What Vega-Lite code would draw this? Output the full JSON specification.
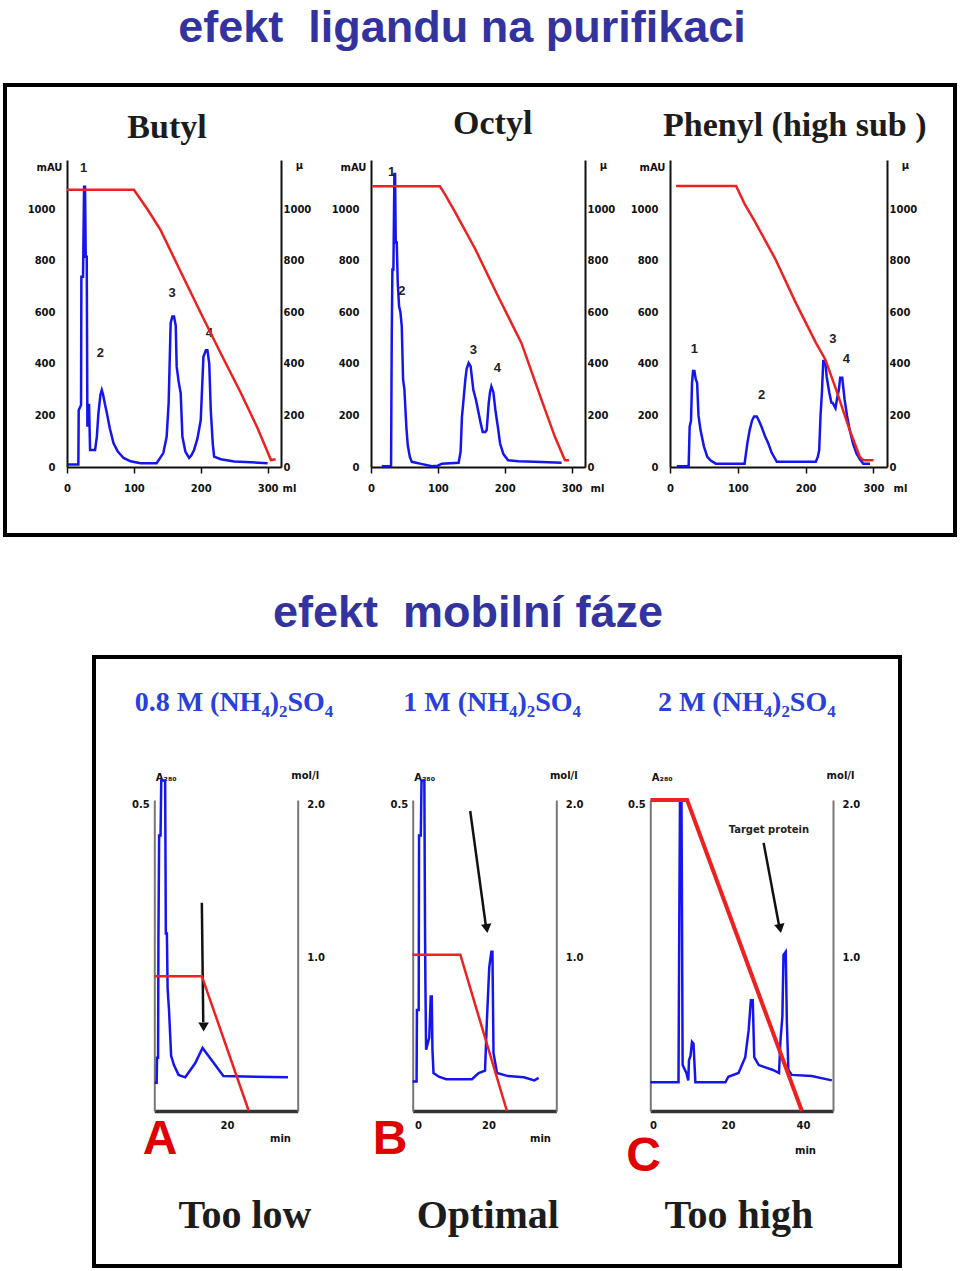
{
  "$schema": "https://vega.github.io/schema/vega-lite/v6.json",
  "background": "white",
  "padding": {"left": 3, "top": 4, "right": 0, "bottom": 0},
  "spacing": 52,
  "config": {
    "view": {"stroke": null},
    "axis": {"grid": false, "domainColor": "#111", "domainWidth": 2, "tickColor": "#111", "labelFont": "DejaVu Sans", "labelFontSize": 10, "labelFontWeight": "bold", "labelColor": "#111", "titleFont": "DejaVu Sans", "titleFontSize": 10, "titleFontWeight": "bold", "titleColor": "#111", "labelFlush": false, "labelOverlap": false}
  },
  "datasets": {
    "butyl": [
      {"s":"uv","x":1,"y":10},{"s":"uv","x":17,"y":10},{"s":"uv","x":17.5,"y":220},{"s":"uv","x":21,"y":240},{"s":"uv","x":21.5,"y":737},{"s":"uv","x":24,"y":737},{"s":"uv","x":25.5,"y":1086},{"s":"uv","x":27,"y":1086},{"s":"uv","x":28,"y":815},{"s":"uv","x":29.5,"y":815},{"s":"uv","x":30.5,"y":156},{"s":"uv","x":32,"y":240},{"s":"uv","x":33,"y":240},{"s":"uv","x":34.5,"y":66},{"s":"uv","x":42,"y":66},{"s":"uv","x":44.6,"y":117},{"s":"uv","x":47,"y":209},{"s":"uv","x":50,"y":280},{"s":"uv","x":52,"y":298},{"s":"uv","x":54,"y":280},{"s":"uv","x":57,"y":240},{"s":"uv","x":59.6,"y":209},{"s":"uv","x":64,"y":150},{"s":"uv","x":69.6,"y":92},{"s":"uv","x":76,"y":60},{"s":"uv","x":84.6,"y":35},{"s":"uv","x":95,"y":22},{"s":"uv","x":110,"y":15},{"s":"uv","x":134,"y":15},{"s":"uv","x":144,"y":54},{"s":"uv","x":149,"y":117},{"s":"uv","x":152,"y":248},{"s":"uv","x":155,"y":558},{"s":"uv","x":157.5,"y":583},{"s":"uv","x":160,"y":583},{"s":"uv","x":162.6,"y":548},{"s":"uv","x":164,"y":389},{"s":"uv","x":167,"y":330},{"s":"uv","x":170,"y":286},{"s":"uv","x":172.6,"y":117},{"s":"uv","x":177,"y":60},{"s":"uv","x":182.6,"y":35},{"s":"uv","x":186,"y":45},{"s":"uv","x":190,"y":66},{"s":"uv","x":195,"y":110},{"s":"uv","x":200,"y":182},{"s":"uv","x":204,"y":427},{"s":"uv","x":207.7,"y":453},{"s":"uv","x":210,"y":453},{"s":"uv","x":212.7,"y":401},{"s":"uv","x":215,"y":220},{"s":"uv","x":218,"y":90},{"s":"uv","x":220,"y":40},{"s":"uv","x":230,"y":30},{"s":"uv","x":250,"y":21},{"s":"uv","x":275,"y":18},{"s":"uv","x":300,"y":15},
      {"s":"grad","x":0,"y":1075},{"s":"grad","x":100,"y":1075},{"s":"grad","x":120,"y":1000},{"s":"grad","x":140,"y":918},{"s":"grad","x":170,"y":757},{"s":"grad","x":200,"y":597},{"s":"grad","x":230,"y":440},{"s":"grad","x":260,"y":287},{"s":"grad","x":285,"y":150},{"s":"grad","x":305,"y":27},{"s":"grad","x":312,"y":30},
      {"s":"lab","x":25,"y":1160,"t":"1"},{"s":"lab","x":50,"y":442,"t":"2"},{"s":"lab","x":157,"y":674,"t":"3"},{"s":"lab","x":213,"y":519,"t":"4"},
      {"s":"ttl","x":149.5,"y":1275,"t":"Butyl"}
    ],
    "octyl": [
      {"s":"uv","x":16,"y":3},{"s":"uv","x":30,"y":3},{"s":"uv","x":31,"y":500},{"s":"uv","x":32,"y":766},{"s":"uv","x":33.5,"y":766},{"s":"uv","x":35,"y":1136},{"s":"uv","x":36,"y":1136},{"s":"uv","x":37,"y":870},{"s":"uv","x":38.5,"y":870},{"s":"uv","x":40,"y":714},{"s":"uv","x":42,"y":623},{"s":"uv","x":44,"y":600},{"s":"uv","x":46,"y":545},{"s":"uv","x":48,"y":338},{"s":"uv","x":50,"y":300},{"s":"uv","x":51,"y":247},{"s":"uv","x":53,"y":150},{"s":"uv","x":55,"y":84},{"s":"uv","x":58,"y":40},{"s":"uv","x":61,"y":20},{"s":"uv","x":75,"y":12},{"s":"uv","x":91,"y":3},{"s":"uv","x":100,"y":5},{"s":"uv","x":106,"y":13},{"s":"uv","x":131,"y":16},{"s":"uv","x":134,"y":60},{"s":"uv","x":136,"y":195},{"s":"uv","x":138,"y":250},{"s":"uv","x":141,"y":338},{"s":"uv","x":143,"y":380},{"s":"uv","x":146,"y":403},{"s":"uv","x":149,"y":390},{"s":"uv","x":153,"y":299},{"s":"uv","x":157,"y":260},{"s":"uv","x":161,"y":208},{"s":"uv","x":164,"y":170},{"s":"uv","x":167,"y":136},{"s":"uv","x":171,"y":136},{"s":"uv","x":173,"y":143},{"s":"uv","x":176,"y":247},{"s":"uv","x":178,"y":290},{"s":"uv","x":180,"y":312},{"s":"uv","x":183,"y":290},{"s":"uv","x":186,"y":221},{"s":"uv","x":190,"y":150},{"s":"uv","x":193,"y":91},{"s":"uv","x":198,"y":50},{"s":"uv","x":205,"y":26},{"s":"uv","x":220,"y":22},{"s":"uv","x":245,"y":20},{"s":"uv","x":285,"y":16},
      {"s":"grad","x":2,"y":1088},{"s":"grad","x":103,"y":1088},{"s":"grad","x":110,"y":1060},{"s":"grad","x":126,"y":987},{"s":"grad","x":156,"y":844},{"s":"grad","x":190,"y":662},{"s":"grad","x":225,"y":480},{"s":"grad","x":255,"y":260},{"s":"grad","x":275,"y":117},{"s":"grad","x":290,"y":26},{"s":"grad","x":296,"y":26},
      {"s":"lab","x":31,"y":1143,"t":"1"},{"s":"lab","x":46,"y":682,"t":"2"},{"s":"lab","x":153,"y":455,"t":"3"},{"s":"lab","x":189,"y":383,"t":"4"},
      {"s":"ttl","x":182,"y":1291,"t":"Octyl"}
    ],
    "phenyl": [
      {"s":"uv","x":10,"y":3},{"s":"uv","x":27.5,"y":3},{"s":"uv","x":29,"y":156},{"s":"uv","x":31,"y":180},{"s":"uv","x":32.5,"y":326},{"s":"uv","x":34,"y":372},{"s":"uv","x":36,"y":372},{"s":"uv","x":38,"y":340},{"s":"uv","x":40,"y":326},{"s":"uv","x":42,"y":200},{"s":"uv","x":45,"y":143},{"s":"uv","x":50,"y":80},{"s":"uv","x":55,"y":39},{"s":"uv","x":60,"y":25},{"s":"uv","x":67.5,"y":13},{"s":"uv","x":110,"y":13},{"s":"uv","x":114,"y":91},{"s":"uv","x":117.5,"y":143},{"s":"uv","x":121,"y":180},{"s":"uv","x":124,"y":196},{"s":"uv","x":128,"y":196},{"s":"uv","x":131,"y":180},{"s":"uv","x":135,"y":156},{"s":"uv","x":140,"y":120},{"s":"uv","x":145,"y":91},{"s":"uv","x":150,"y":55},{"s":"uv","x":157.5,"y":20},{"s":"uv","x":215,"y":20},{"s":"uv","x":218,"y":40},{"s":"uv","x":220,"y":65},{"s":"uv","x":222,"y":200},{"s":"uv","x":224,"y":287},{"s":"uv","x":226,"y":411},{"s":"uv","x":229,"y":411},{"s":"uv","x":231,"y":350},{"s":"uv","x":235,"y":287},{"s":"uv","x":238,"y":250},{"s":"uv","x":240,"y":248},{"s":"uv","x":244,"y":228},{"s":"uv","x":246,"y":260},{"s":"uv","x":249,"y":300},{"s":"uv","x":251,"y":346},{"s":"uv","x":254,"y":346},{"s":"uv","x":257.5,"y":261},{"s":"uv","x":261,"y":200},{"s":"uv","x":265,"y":143},{"s":"uv","x":270,"y":90},{"s":"uv","x":275,"y":52},{"s":"uv","x":280,"y":30},{"s":"uv","x":285,"y":13},{"s":"uv","x":295,"y":13},
      {"s":"grad","x":9,"y":1089},{"s":"grad","x":97.5,"y":1089},{"s":"grad","x":110,"y":1020},{"s":"grad","x":125,"y":952},{"s":"grad","x":155,"y":808},{"s":"grad","x":185,"y":639},{"s":"grad","x":215,"y":482},{"s":"grad","x":229,"y":417},{"s":"grad","x":245,"y":300},{"s":"grad","x":265,"y":143},{"s":"grad","x":280,"y":39},{"s":"grad","x":285,"y":26},{"s":"grad","x":300,"y":26},
      {"s":"lab","x":36,"y":456,"t":"1"},{"s":"lab","x":135,"y":280,"t":"2"},{"s":"lab","x":240,"y":495,"t":"3"},{"s":"lab","x":260,"y":417,"t":"4"},
      {"s":"ttl","x":184,"y":1283,"t":"Phenyl (high sub )"}
    ],
    "pa": [
      {"s":"uv","x":-0.45,"y":0.046},{"s":"uv","x":0.1,"y":0.046},{"s":"uv","x":0.2,"y":0.087},{"s":"uv","x":0.5,"y":0.087},{"s":"uv","x":0.6,"y":0.28},{"s":"uv","x":0.8,"y":0.45},{"s":"uv","x":1.2,"y":0.45},{"s":"uv","x":1.4,"y":0.54},{"s":"uv","x":2.5,"y":0.54},{"s":"uv","x":2.7,"y":0.29},{"s":"uv","x":3.0,"y":0.29},{"s":"uv","x":3.2,"y":0.2},{"s":"uv","x":3.6,"y":0.165},{"s":"uv","x":4.2,"y":0.09},{"s":"uv","x":5.0,"y":0.075},{"s":"uv","x":6.3,"y":0.059},{"s":"uv","x":8.2,"y":0.055},{"s":"uv","x":11,"y":0.078},{"s":"uv","x":13.1,"y":0.103},{"s":"uv","x":15.7,"y":0.083},{"s":"uv","x":19,"y":0.057},{"s":"uv","x":37.3,"y":0.055},
      {"s":"grad","x":-0.5,"y":0.88},{"s":"grad","x":12.9,"y":0.88},{"s":"grad","x":26.2,"y":0.0},
      {"s":"arrow","x":12.9,"y":0.34,"x2":13.3,"y2":0.145},{"s":"head","x":13.4,"y":0.129},
      {"s":"letter","x":1.05,"y":-0.047,"t":"A"},{"s":"cap","x":25.1,"y":-0.171,"t":"Too low"},
      {"s":"sub","x":22,"y":0.654,"t":"0.8 M (NH₄)₂SO₄"}
    ],
    "pb": [
      {"s":"uv","x":-1.5,"y":0.048},{"s":"uv","x":-0.4,"y":0.048},{"s":"uv","x":-0.3,"y":0.165},{"s":"uv","x":0.2,"y":0.165},{"s":"uv","x":0.3,"y":0.45},{"s":"uv","x":0.8,"y":0.45},{"s":"uv","x":1.0,"y":0.54},{"s":"uv","x":1.8,"y":0.54},{"s":"uv","x":2.0,"y":0.29},{"s":"uv","x":2.1,"y":0.21},{"s":"uv","x":2.3,"y":0.1},{"s":"uv","x":3.2,"y":0.12},{"s":"uv","x":3.6,"y":0.187},{"s":"uv","x":3.9,"y":0.187},{"s":"uv","x":4.1,"y":0.1},{"s":"uv","x":4.4,"y":0.062},{"s":"uv","x":5.9,"y":0.056},{"s":"uv","x":8,"y":0.052},{"s":"uv","x":15.3,"y":0.052},{"s":"uv","x":17.2,"y":0.062},{"s":"uv","x":19,"y":0.066},{"s":"uv","x":19.5,"y":0.144},{"s":"uv","x":20.2,"y":0.235},{"s":"uv","x":20.8,"y":0.26},{"s":"uv","x":21.1,"y":0.26},{"s":"uv","x":21.4,"y":0.095},{"s":"uv","x":22.4,"y":0.062},{"s":"uv","x":25.5,"y":0.057},{"s":"uv","x":30,"y":0.055},{"s":"uv","x":33,"y":0.05},{"s":"uv","x":34.2,"y":0.054},
      {"s":"grad","x":-1.5,"y":1.02},{"s":"grad","x":12,"y":1.02},{"s":"grad","x":25.2,"y":0.0},
      {"s":"arrow","x":14.8,"y":0.49,"x2":19.3,"y2":0.3},{"s":"head","x":19.5,"y":0.29},
      {"s":"letter","x":-7.9,"y":-0.047,"t":"B"},{"s":"cap","x":19.8,"y":-0.171,"t":"Optimal"},
      {"s":"sub","x":21,"y":0.654,"t":"1 M (NH₄)₂SO₄"}
    ],
    "pc": [
      {"s":"uv","x":-0.7,"y":0.047},{"s":"uv","x":6.8,"y":0.047},{"s":"uv","x":7.0,"y":0.3},{"s":"uv","x":7.2,"y":0.508},{"s":"uv","x":7.6,"y":0.508},{"s":"uv","x":7.9,"y":0.075},{"s":"uv","x":8.9,"y":0.062},{"s":"uv","x":9.4,"y":0.05},{"s":"uv","x":9.6,"y":0.083},{"s":"uv","x":10.0,"y":0.09},{"s":"uv","x":10.4,"y":0.113},{"s":"uv","x":10.8,"y":0.11},{"s":"uv","x":11.3,"y":0.047},{"s":"uv","x":19.3,"y":0.047},{"s":"uv","x":20.1,"y":0.056},{"s":"uv","x":22.8,"y":0.062},{"s":"uv","x":24.6,"y":0.088},{"s":"uv","x":25.5,"y":0.132},{"s":"uv","x":26.1,"y":0.181},{"s":"uv","x":26.6,"y":0.181},{"s":"uv","x":27,"y":0.088},{"s":"uv","x":28.2,"y":0.075},{"s":"uv","x":32,"y":0.067},{"s":"uv","x":33.6,"y":0.062},{"s":"uv","x":34,"y":0.116},{"s":"uv","x":34.5,"y":0.154},{"s":"uv","x":34.8,"y":0.255},{"s":"uv","x":35.4,"y":0.26},{"s":"uv","x":35.7,"y":0.144},{"s":"uv","x":36.1,"y":0.067},{"s":"uv","x":37,"y":0.059},{"s":"uv","x":42.3,"y":0.057},{"s":"uv","x":47.7,"y":0.05},
      {"s":"grad","x":-0.7,"y":2.03},{"s":"grad","x":9.1,"y":2.03},{"s":"grad","x":39.7,"y":0.0},
      {"s":"arrow","x":29.5,"y":0.438,"x2":33.7,"y2":0.3},{"s":"head","x":33.9,"y":0.29},
      {"s":"note","x":30.9,"y":0.459,"t":"Target protein"},
      {"s":"letter","x":-2.5,"y":-0.075,"t":"C"},{"s":"cap","x":22.9,"y":-0.171,"t":"Too high"},
      {"s":"sub","x":25,"y":0.654,"t":"2 M (NH₄)₂SO₄"}
    ]
  },
  "vconcat": [
    {
      "title": {"text": "efekt\u00a0 ligandu na purifikaci", "font": "Liberation Sans", "fontSize": 45, "fontWeight": "bold", "color": "#3333a0", "anchor": "middle", "frame": "bounds", "dx": -18, "offset": -2, "baseline": "alphabetic"},
      "width": 950, "height": 450,
      "view": {"stroke": "#000", "strokeWidth": 4},
      "resolve": {"scale": {"x": "independent", "y": "independent"}},
      "layer": [
        {
          "data": {"name": "butyl"},
          "resolve": {"scale": {"y": "independent"}},
          "layer": [
            {"layer": [
              {"transform": [{"filter": "datum.s==='uv'"}], "mark": {"type": "line", "color": "#1515ee", "strokeWidth": 2.5},
               "encoding": {
                 "x": {"field": "x", "type": "quantitative", "scale": {"domain": [0, 320], "range": [62, 276], "nice": false, "zero": false}, "axis": {"orient": "bottom", "offset": -68, "values": [0, 100, 200, 300], "format": "d", "tickSize": 6, "tickWidth": 1.5, "labelPadding": 10, "title": "ml", "titleX": 277, "titleY": 21, "titleAngle": 0, "titleAlign": "left", "titleBaseline": "middle"}},
                 "y": {"field": "y", "type": "quantitative", "scale": {"domain": [0, 1190], "range": [382, 75], "nice": false, "zero": false}, "axis": {"orient": "left", "offset": -62, "values": [0, 200, 400, 600, 800, 1000], "format": "d", "ticks": false, "labelPadding": 12, "title": "mAU", "titleAngle": 0, "titleX": -5, "titleY": 82, "titleAlign": "right", "titleBaseline": "middle"}}
               }},
              {"transform": [{"filter": "datum.s==='lab'"}], "mark": {"type": "text", "font": "Liberation Sans", "fontSize": 13, "fontWeight": "bold", "color": "#222"},
               "encoding": {"x": {"field": "x", "type": "quantitative"}, "y": {"field": "y", "type": "quantitative"}, "text": {"field": "t"}}},
              {"transform": [{"filter": "datum.s==='ttl'"}], "mark": {"type": "text", "font": "Liberation Serif", "fontSize": 34, "fontWeight": "bold", "color": "#1c1c1c", "baseline": "alphabetic"},
               "encoding": {"x": {"field": "x", "type": "quantitative"}, "y": {"field": "y", "type": "quantitative"}, "text": {"field": "t"}}}
            ]},
            {"transform": [{"filter": "datum.s==='grad'"}], "mark": {"type": "line", "color": "#ee2020", "strokeWidth": 2.5},
             "encoding": {"x": {"field": "x", "type": "quantitative"}, "y": {"field": "y", "type": "quantitative", "scale": {"domain": [0, 1190], "range": [382, 75], "nice": false, "zero": false}, "axis": {"orient": "right", "offset": -674, "values": [0, 200, 400, 600, 800, 1000], "format": "d", "ticks": false, "labelPadding": 2, "title": "μ", "titleAngle": 0, "titleX": 18, "titleY": 80, "titleAlign": "center", "titleBaseline": "middle"}}}}
          ]
        },
        {
          "data": {"name": "octyl"},
          "resolve": {"scale": {"y": "independent"}},
          "layer": [
            {"layer": [
              {"transform": [{"filter": "datum.s==='uv'"}], "mark": {"type": "line", "color": "#1515ee", "strokeWidth": 2.5},
               "encoding": {
                 "x": {"field": "x", "type": "quantitative", "scale": {"domain": [0, 320], "range": [366, 580], "nice": false, "zero": false}, "axis": {"orient": "bottom", "offset": -68, "values": [0, 100, 200, 300], "format": "d", "tickSize": 6, "tickWidth": 1.5, "labelPadding": 10, "title": "ml", "titleX": 585, "titleY": 21, "titleAngle": 0, "titleAlign": "left", "titleBaseline": "middle"}},
                 "y": {"field": "y", "type": "quantitative", "scale": {"domain": [0, 1190], "range": [382, 75], "nice": false, "zero": false}, "axis": {"orient": "left", "offset": -366, "values": [0, 200, 400, 600, 800, 1000], "format": "d", "ticks": false, "labelPadding": 12, "title": "mAU", "titleAngle": 0, "titleX": -5, "titleY": 82, "titleAlign": "right", "titleBaseline": "middle"}}
               }},
              {"transform": [{"filter": "datum.s==='lab'"}], "mark": {"type": "text", "font": "Liberation Sans", "fontSize": 13, "fontWeight": "bold", "color": "#222"},
               "encoding": {"x": {"field": "x", "type": "quantitative"}, "y": {"field": "y", "type": "quantitative"}, "text": {"field": "t"}}},
              {"transform": [{"filter": "datum.s==='ttl'"}], "mark": {"type": "text", "font": "Liberation Serif", "fontSize": 34, "fontWeight": "bold", "color": "#1c1c1c", "baseline": "alphabetic"},
               "encoding": {"x": {"field": "x", "type": "quantitative"}, "y": {"field": "y", "type": "quantitative"}, "text": {"field": "t"}}}
            ]},
            {"transform": [{"filter": "datum.s==='grad'"}], "mark": {"type": "line", "color": "#ee2020", "strokeWidth": 2.5},
             "encoding": {"x": {"field": "x", "type": "quantitative"}, "y": {"field": "y", "type": "quantitative", "scale": {"domain": [0, 1190], "range": [382, 75], "nice": false, "zero": false}, "axis": {"orient": "right", "offset": -370, "values": [0, 200, 400, 600, 800, 1000], "format": "d", "ticks": false, "labelPadding": 2, "title": "μ", "titleAngle": 0, "titleX": 18, "titleY": 80, "titleAlign": "center", "titleBaseline": "middle"}}}}
          ]
        },
        {
          "data": {"name": "phenyl"},
          "resolve": {"scale": {"y": "independent"}},
          "layer": [
            {"layer": [
              {"transform": [{"filter": "datum.s==='uv'"}], "mark": {"type": "line", "color": "#1515ee", "strokeWidth": 2.5},
               "encoding": {
                 "x": {"field": "x", "type": "quantitative", "scale": {"domain": [0, 320], "range": [665, 882], "nice": false, "zero": false}, "axis": {"orient": "bottom", "offset": -68, "values": [0, 100, 200, 300], "format": "d", "tickSize": 6, "tickWidth": 1.5, "labelPadding": 10, "title": "ml", "titleX": 888, "titleY": 21, "titleAngle": 0, "titleAlign": "left", "titleBaseline": "middle"}},
                 "y": {"field": "y", "type": "quantitative", "scale": {"domain": [0, 1190], "range": [382, 75], "nice": false, "zero": false}, "axis": {"orient": "left", "offset": -665, "values": [0, 200, 400, 600, 800, 1000], "format": "d", "ticks": false, "labelPadding": 12, "title": "mAU", "titleAngle": 0, "titleX": -5, "titleY": 82, "titleAlign": "right", "titleBaseline": "middle"}}
               }},
              {"transform": [{"filter": "datum.s==='lab'"}], "mark": {"type": "text", "font": "Liberation Sans", "fontSize": 13, "fontWeight": "bold", "color": "#222"},
               "encoding": {"x": {"field": "x", "type": "quantitative"}, "y": {"field": "y", "type": "quantitative"}, "text": {"field": "t"}}},
              {"transform": [{"filter": "datum.s==='ttl'"}], "mark": {"type": "text", "font": "Liberation Serif", "fontSize": 34, "fontWeight": "bold", "color": "#1c1c1c", "baseline": "alphabetic"},
               "encoding": {"x": {"field": "x", "type": "quantitative"}, "y": {"field": "y", "type": "quantitative"}, "text": {"field": "t"}}}
            ]},
            {"transform": [{"filter": "datum.s==='grad'"}], "mark": {"type": "line", "color": "#ee2020", "strokeWidth": 2.5},
             "encoding": {"x": {"field": "x", "type": "quantitative"}, "y": {"field": "y", "type": "quantitative", "scale": {"domain": [0, 1190], "range": [382, 75], "nice": false, "zero": false}, "axis": {"orient": "right", "offset": -68, "values": [0, 200, 400, 600, 800, 1000], "format": "d", "ticks": false, "labelPadding": 2, "title": "μ", "titleAngle": 0, "titleX": 18, "titleY": 80, "titleAlign": "center", "titleBaseline": "middle"}}}}
          ]
        }
      ]
    },
    {
      "spacing": 0,
      "hconcat": [
        {"width": 87, "height": 10, "view": {"fill": "white", "stroke": null}, "data": {"values": [{}]}, "mark": {"type": "text"}, "encoding": {"text": {"value": ""}}},
        {
          "title": {"text": "efekt\u00a0 mobilní fáze", "font": "Liberation Sans", "fontSize": 45, "fontWeight": "bold", "color": "#3333a0", "anchor": "middle", "frame": "bounds", "dx": -29, "offset": -15, "baseline": "alphabetic"},
          "width": 806, "height": 609,
          "view": {"stroke": "#000", "strokeWidth": 4},
          "resolve": {"scale": {"x": "independent", "y": "independent"}},
          "layer": [
            {
              "data": {"name": "pa"},
              "resolve": {"scale": {"y": "independent"}},
              "layer": [
                {"layer": [
                  {"transform": [{"filter": "datum.s==='uv'"}], "mark": {"type": "line", "color": "#1515ee", "strokeWidth": 2.5},
                   "encoding": {
                     "x": {"field": "x", "type": "quantitative", "scale": {"domain": [-0.57, 40.06], "range": [60.3, 203.7], "nice": false, "zero": false}, "axis": {"orient": "bottom", "offset": -155, "values": [20], "format": "d", "ticks": false, "labelPadding": 9, "domainWidth": 3.5, "domainColor": "#333", "title": "min", "titleX": 186, "titleY": 27, "titleAngle": 0, "titleAlign": "center", "titleBaseline": "middle"}},
                     "y": {"field": "y", "type": "quantitative", "scale": {"domain": [0, 0.508], "range": [454, 143], "nice": false, "zero": false}, "axis": {"orient": "left", "offset": -60.3, "values": [0.5], "format": ".1f", "ticks": false, "labelPadding": 5, "domainColor": "#777", "domainWidth": 2, "title": "A₂₈₀", "titleAngle": 0, "titleX": 1, "titleY": 120, "titleAlign": "left", "titleBaseline": "middle"}}
                   }},
                  {"transform": [{"filter": "datum.s==='arrow'"}], "mark": {"type": "rule", "color": "#111", "strokeWidth": 2.5},
                   "encoding": {"x": {"field": "x", "type": "quantitative"}, "y": {"field": "y", "type": "quantitative"}, "x2": {"field": "x2"}, "y2": {"field": "y2"}}},
                  {"transform": [{"filter": "datum.s==='head'"}], "mark": {"type": "point", "shape": "triangle-down", "filled": true, "color": "#111", "opacity": 1, "size": 110, "yOffset": -5},
                   "encoding": {"x": {"field": "x", "type": "quantitative"}, "y": {"field": "y", "type": "quantitative"}}},
                  {"transform": [{"filter": "datum.s==='letter'"}], "mark": {"type": "text", "font": "Liberation Sans", "fontSize": 48, "fontWeight": "bold", "color": "#e00000", "baseline": "middle"},
                   "encoding": {"x": {"field": "x", "type": "quantitative"}, "y": {"field": "y", "type": "quantitative"}, "text": {"field": "t"}}},
                  {"transform": [{"filter": "datum.s==='cap'"}], "mark": {"type": "text", "font": "Liberation Serif", "fontSize": 40, "fontWeight": "bold", "color": "#1c1c1c", "baseline": "middle"},
                   "encoding": {"x": {"field": "x", "type": "quantitative"}, "y": {"field": "y", "type": "quantitative"}, "text": {"field": "t"}}},
                  {"transform": [{"filter": "datum.s==='sub'"}], "mark": {"type": "text", "font": "Liberation Serif", "fontSize": 28, "fontWeight": "bold", "color": "#2840dc", "baseline": "alphabetic"},
                   "encoding": {"x": {"field": "x", "type": "quantitative"}, "y": {"field": "y", "type": "quantitative"}, "text": {"field": "t"}}}
                ]},
                {"transform": [{"filter": "datum.s==='grad'"}], "mark": {"type": "line", "color": "#ee2020", "strokeWidth": 2.5},
                 "encoding": {"x": {"field": "x", "type": "quantitative"}, "y": {"field": "y", "type": "quantitative", "scale": {"domain": [0, 2.03], "range": [454, 143], "nice": false, "zero": false}, "axis": {"orient": "right", "offset": -602.3, "values": [1, 2], "format": ".1f", "ticks": false, "labelPadding": 9, "domainColor": "#777", "domainWidth": 2, "title": "mol/l", "titleAngle": 0, "titleX": 7, "titleY": 118, "titleAlign": "center", "titleBaseline": "middle"}}}}
              ]
            },
            {
              "data": {"name": "pb"},
              "resolve": {"scale": {"y": "independent"}},
              "layer": [
                {"layer": [
                  {"transform": [{"filter": "datum.s==='uv'"}], "mark": {"type": "line", "color": "#1515ee", "strokeWidth": 2.5},
                   "encoding": {
                     "x": {"field": "x", "type": "quantitative", "scale": {"domain": [-1.5, 39.2], "range": [318.7, 462.3], "nice": false, "zero": false}, "axis": {"orient": "bottom", "offset": -155, "values": [0, 20], "format": "d", "ticks": false, "labelPadding": 9, "domainWidth": 3.5, "domainColor": "#333", "title": "min", "titleX": 446, "titleY": 27, "titleAngle": 0, "titleAlign": "center", "titleBaseline": "middle"}},
                     "y": {"field": "y", "type": "quantitative", "scale": {"domain": [0, 0.508], "range": [454, 143], "nice": false, "zero": false}, "axis": {"orient": "left", "offset": -318.7, "values": [0.5], "format": ".1f", "ticks": false, "labelPadding": 5, "domainColor": "#777", "domainWidth": 2, "title": "A₂₈₀", "titleAngle": 0, "titleX": 1, "titleY": 120, "titleAlign": "left", "titleBaseline": "middle"}}
                   }},
                  {"transform": [{"filter": "datum.s==='arrow'"}], "mark": {"type": "rule", "color": "#111", "strokeWidth": 2.5},
                   "encoding": {"x": {"field": "x", "type": "quantitative"}, "y": {"field": "y", "type": "quantitative"}, "x2": {"field": "x2"}, "y2": {"field": "y2"}}},
                  {"transform": [{"filter": "datum.s==='head'"}], "mark": {"type": "point", "shape": "triangle-down", "filled": true, "color": "#111", "opacity": 1, "size": 110, "yOffset": -5, "angle": -8},
                   "encoding": {"x": {"field": "x", "type": "quantitative"}, "y": {"field": "y", "type": "quantitative"}}},
                  {"transform": [{"filter": "datum.s==='letter'"}], "mark": {"type": "text", "font": "Liberation Sans", "fontSize": 48, "fontWeight": "bold", "color": "#e00000", "baseline": "middle"},
                   "encoding": {"x": {"field": "x", "type": "quantitative"}, "y": {"field": "y", "type": "quantitative"}, "text": {"field": "t"}}},
                  {"transform": [{"filter": "datum.s==='cap'"}], "mark": {"type": "text", "font": "Liberation Serif", "fontSize": 40, "fontWeight": "bold", "color": "#1c1c1c", "baseline": "middle"},
                   "encoding": {"x": {"field": "x", "type": "quantitative"}, "y": {"field": "y", "type": "quantitative"}, "text": {"field": "t"}}},
                  {"transform": [{"filter": "datum.s==='sub'"}], "mark": {"type": "text", "font": "Liberation Serif", "fontSize": 28, "fontWeight": "bold", "color": "#2840dc", "baseline": "alphabetic"},
                   "encoding": {"x": {"field": "x", "type": "quantitative"}, "y": {"field": "y", "type": "quantitative"}, "text": {"field": "t"}}}
                ]},
                {"transform": [{"filter": "datum.s==='grad'"}], "mark": {"type": "line", "color": "#ee2020", "strokeWidth": 2.5},
                 "encoding": {"x": {"field": "x", "type": "quantitative"}, "y": {"field": "y", "type": "quantitative", "scale": {"domain": [0, 2.03], "range": [454, 143], "nice": false, "zero": false}, "axis": {"orient": "right", "offset": -343.7, "values": [1, 2], "format": ".1f", "ticks": false, "labelPadding": 9, "domainColor": "#777", "domainWidth": 2, "title": "mol/l", "titleAngle": 0, "titleX": 7, "titleY": 118, "titleAlign": "center", "titleBaseline": "middle"}}}}
              ]
            },
            {
              "data": {"name": "pc"},
              "resolve": {"scale": {"y": "independent"}},
              "layer": [
                {"layer": [
                  {"transform": [{"filter": "datum.s==='uv'"}], "mark": {"type": "line", "color": "#1515ee", "strokeWidth": 2.5},
                   "encoding": {
                     "x": {"field": "x", "type": "quantitative", "scale": {"domain": [-0.72, 48], "range": [556.3, 739], "nice": false, "zero": false}, "axis": {"orient": "bottom", "offset": -155, "values": [0, 20, 40], "format": "d", "ticks": false, "labelPadding": 9, "domainWidth": 3.5, "domainColor": "#333", "title": "min", "titleX": 711, "titleY": 39, "titleAngle": 0, "titleAlign": "center", "titleBaseline": "middle"}},
                     "y": {"field": "y", "type": "quantitative", "scale": {"domain": [0, 0.508], "range": [454, 143], "nice": false, "zero": false}, "axis": {"orient": "left", "offset": -556.3, "values": [0.5], "format": ".1f", "ticks": false, "labelPadding": 5, "domainColor": "#777", "domainWidth": 2, "title": "A₂₈₀", "titleAngle": 0, "titleX": 1, "titleY": 120, "titleAlign": "left", "titleBaseline": "middle"}}
                   }},
                  {"transform": [{"filter": "datum.s==='arrow'"}], "mark": {"type": "rule", "color": "#111", "strokeWidth": 2.5},
                   "encoding": {"x": {"field": "x", "type": "quantitative"}, "y": {"field": "y", "type": "quantitative"}, "x2": {"field": "x2"}, "y2": {"field": "y2"}}},
                  {"transform": [{"filter": "datum.s==='head'"}], "mark": {"type": "point", "shape": "triangle-down", "filled": true, "color": "#111", "opacity": 1, "size": 110, "yOffset": -5, "angle": -10},
                   "encoding": {"x": {"field": "x", "type": "quantitative"}, "y": {"field": "y", "type": "quantitative"}}},
                  {"transform": [{"filter": "datum.s==='note'"}], "mark": {"type": "text", "font": "DejaVu Sans", "fontSize": 10, "fontWeight": "bold", "color": "#222", "baseline": "middle"},
                   "encoding": {"x": {"field": "x", "type": "quantitative"}, "y": {"field": "y", "type": "quantitative"}, "text": {"field": "t"}}},
                  {"transform": [{"filter": "datum.s==='letter'"}], "mark": {"type": "text", "font": "Liberation Sans", "fontSize": 48, "fontWeight": "bold", "color": "#e00000", "baseline": "middle"},
                   "encoding": {"x": {"field": "x", "type": "quantitative"}, "y": {"field": "y", "type": "quantitative"}, "text": {"field": "t"}}},
                  {"transform": [{"filter": "datum.s==='cap'"}], "mark": {"type": "text", "font": "Liberation Serif", "fontSize": 40, "fontWeight": "bold", "color": "#1c1c1c", "baseline": "middle"},
                   "encoding": {"x": {"field": "x", "type": "quantitative"}, "y": {"field": "y", "type": "quantitative"}, "text": {"field": "t"}}},
                  {"transform": [{"filter": "datum.s==='sub'"}], "mark": {"type": "text", "font": "Liberation Serif", "fontSize": 28, "fontWeight": "bold", "color": "#2840dc", "baseline": "alphabetic"},
                   "encoding": {"x": {"field": "x", "type": "quantitative"}, "y": {"field": "y", "type": "quantitative"}, "text": {"field": "t"}}}
                ]},
                {"transform": [{"filter": "datum.s==='grad'"}], "mark": {"type": "line", "color": "#ee2020", "strokeWidth": 4},
                 "encoding": {"x": {"field": "x", "type": "quantitative"}, "y": {"field": "y", "type": "quantitative", "scale": {"domain": [0, 2.03], "range": [454, 143], "nice": false, "zero": false}, "axis": {"orient": "right", "offset": -67, "values": [1, 2], "format": ".1f", "ticks": false, "labelPadding": 9, "domainColor": "#777", "domainWidth": 2, "title": "mol/l", "titleAngle": 0, "titleX": 7, "titleY": 118, "titleAlign": "center", "titleBaseline": "middle"}}}}
              ]
            }
          ]
        }
      ]
    }
  ]
}
